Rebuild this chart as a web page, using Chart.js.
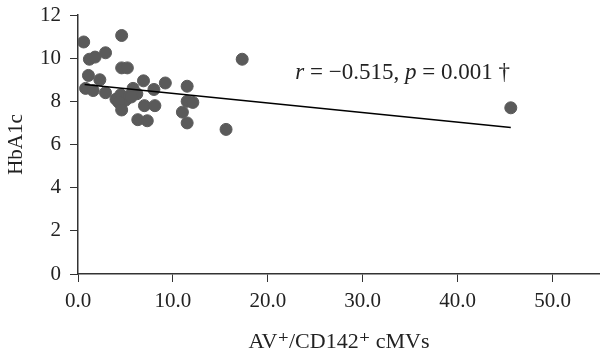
<!DOCTYPE html>
<html>
<head>
<meta charset="utf-8">
<script src="https://cdn.jsdelivr.net/npm/chart.js@4.4.0/dist/chart.umd.min.js"></script>
<style>
html, body { margin: 0; padding: 0; background: #fff; }
#wrap { width: 600px; height: 351px; }
</style>
</head>
<body>
<div id="wrap"><canvas id="grafico"></canvas></div>
<script>
// valores
var cmvs = [0.6, 4.6, 1.2, 1.8, 2.9, 17.3, 4.6, 5.2, 1.1, 2.3, 6.9, 9.2, 11.5, 0.8, 1.6, 2.9, 5.8, 8.0,
            4.0, 4.5, 5.0, 5.4, 6.2, 4.3, 11.5, 12.1, 7.0, 8.1, 4.6, 11.0, 6.3, 7.3, 11.5, 15.6, 45.6, 5.6];
var hba1c = [10.75, 11.05, 9.95, 10.05, 10.25, 9.95, 9.55, 9.55, 9.2, 9.0, 8.95, 8.85, 8.7, 8.6, 8.5, 8.4, 8.6, 8.55,
             8.1, 8.3, 8.05, 8.25, 8.35, 7.95, 8.0, 7.95, 7.8, 7.8, 7.6, 7.5, 7.15, 7.1, 7.0, 6.7, 7.7, 8.2];
var retaX = [0.7, 45.6];
var retaY = [8.78, 6.79];
var xTicks = [0, 10, 20, 30, 40, 50];
var yTicks = [0, 2, 4, 6, 8, 10, 12];
var anotacao = [['r', true], [' = \u22120.515, ', false], ['p', true], [' = 0.001 \u2020', false]];
var anotacaoPos = { x: 34.2, y: 9.3 };

var fonte = '"Liberation Serif", "DejaVu Serif", serif';
var corEixo = '#333333';

// texto da correlação com r e p em itálico
var textoPlugin = {
    id: 'textoCorrelacao',
    afterDatasetsDraw: function (chart) {
        var ctx = chart.ctx;
        var cx = chart.scales.x.getPixelForValue(anotacaoPos.x);
        var cy = chart.scales.y.getPixelForValue(anotacaoPos.y);
        ctx.save();
        ctx.fillStyle = '#222';
        ctx.textBaseline = 'middle';
        var total = 0;
        anotacao.forEach(function (p) {
            ctx.font = (p[1] ? 'italic ' : '') + '23px ' + fonte;
            total += ctx.measureText(p[0]).width;
        });
        var x = cx - total / 2;
        anotacao.forEach(function (p) {
            ctx.font = (p[1] ? 'italic ' : '') + '23px ' + fonte;
            ctx.fillText(p[0], x, cy);
            x += ctx.measureText(p[0]).width;
        });
        ctx.restore();
    }
};

var grafico = new Chart(document.getElementById('grafico').getContext('2d'), {
    type: 'scatter',
    data: {
        datasets: [{
            label: 'Pacientes',
            data: cmvs.map(function (v, i) { return { x: v, y: hba1c[i] }; }),
            backgroundColor: '#5a5a5a',
            borderColor: '#5a5a5a',
            pointRadius: 6,
            pointHoverRadius: 6,
            order: 2
        }, {
            type: 'line',
            label: 'Regressão',
            data: retaX.map(function (v, i) { return { x: v, y: retaY[i] }; }),
            borderColor: '#000',
            borderWidth: 1.5,
            pointRadius: 0,
            fill: false,
            order: 1
        }]
    },
    options: {
        responsive: true,
        maintainAspectRatio: false,
        animation: false,
        layout: { autoPadding: false, padding: { top: 15, right: 0, left: 0, bottom: 0 } },
        scales: {
            x: {
                type: 'linear',
                min: 0,
                max: 55,
                afterBuildTicks: function (s) { s.ticks = xTicks.map(function (v) { return { value: v }; }); },
                afterFit: function (s) { s.height = 77; s.paddingRight = 0; },
                grid: { drawOnChartArea: false, drawTicks: true, tickLength: 8, color: corEixo },
                border: { color: corEixo, width: 1.5 },
                ticks: {
                    color: '#222',
                    padding: 7,
                    font: { family: fonte, size: 21 },
                    callback: function (v) { return v.toFixed(1); }
                },
                title: {
                    display: true,
                    text: 'AV\u207A/CD142\u207A cMVs',
                    color: '#222',
                    font: { family: fonte, size: 22 },
                    padding: { top: 4, bottom: -4 }
                }
            },
            y: {
                type: 'linear',
                min: 0,
                max: 12,
                afterBuildTicks: function (s) { s.ticks = yTicks.map(function (v) { return { value: v }; }); },
                afterFit: function (s) { s.width = 78; s.paddingTop = 0; s.paddingBottom = 0; },
                grid: { drawOnChartArea: false, drawTicks: true, tickLength: 8, color: corEixo },
                border: { color: corEixo, width: 1.5 },
                ticks: {
                    color: '#222',
                    padding: 9,
                    font: { family: fonte, size: 21 }
                },
                title: {
                    display: true,
                    text: 'HbA1c',
                    color: '#222',
                    font: { family: fonte, size: 21 },
                    padding: { bottom: 0 }
                }
            }
        },
        plugins: {
            legend: { display: false },
            tooltip: { enabled: false }
        }
    },
    plugins: [textoPlugin]
});
</script>
</body>
</html>
